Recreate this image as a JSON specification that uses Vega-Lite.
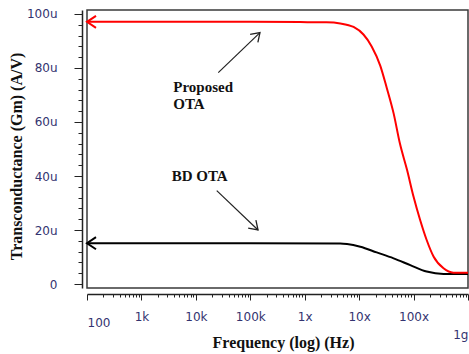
{
  "$schema": "https://vega.github.io/schema/vega-lite/v6.json",
  "width": 381,
  "height": 278,
  "autosize": {"type": "none"},
  "padding": {"left": 87, "top": 10, "right": 1, "bottom": 66},
  "background": "white",
  "config": {"view": {"stroke": "#3a3a3a", "strokeWidth": 1.5}},
  "resolve": {"axis": {"x": "independent", "y": "independent"}},
  "datasets": {
    "curves": [
      {"series": "Proposed OTA", "f": 100, "gm": 97.1},
      {"series": "Proposed OTA", "f": 10000, "gm": 97.1},
      {"series": "Proposed OTA", "f": 100000, "gm": 97.1},
      {"series": "Proposed OTA", "f": 830000, "gm": 97.0},
      {"series": "Proposed OTA", "f": 2500000, "gm": 96.9},
      {"series": "Proposed OTA", "f": 4500000, "gm": 96.5},
      {"series": "Proposed OTA", "f": 7900000, "gm": 95.2},
      {"series": "Proposed OTA", "f": 12000000, "gm": 92.4},
      {"series": "Proposed OTA", "f": 17000000, "gm": 88.0},
      {"series": "Proposed OTA", "f": 24500000, "gm": 80.8},
      {"series": "Proposed OTA", "f": 32000000, "gm": 72.8},
      {"series": "Proposed OTA", "f": 43000000, "gm": 63.2},
      {"series": "Proposed OTA", "f": 56000000, "gm": 52.1},
      {"series": "Proposed OTA", "f": 76000000, "gm": 42.2},
      {"series": "Proposed OTA", "f": 100000000, "gm": 32.3},
      {"series": "Proposed OTA", "f": 132000000, "gm": 23.7},
      {"series": "Proposed OTA", "f": 174000000, "gm": 16.3},
      {"series": "Proposed OTA", "f": 234000000, "gm": 10.1},
      {"series": "Proposed OTA", "f": 355000000, "gm": 5.8},
      {"series": "Proposed OTA", "f": 540000000, "gm": 4.2},
      {"series": "Proposed OTA", "f": 1000000000, "gm": 4.2},
      {"series": "BD OTA", "f": 100, "gm": 15.1},
      {"series": "BD OTA", "f": 100000, "gm": 15.1},
      {"series": "BD OTA", "f": 4500000, "gm": 15.0},
      {"series": "BD OTA", "f": 6000000, "gm": 14.8},
      {"series": "BD OTA", "f": 10500000, "gm": 13.8},
      {"series": "BD OTA", "f": 21000000, "gm": 11.7},
      {"series": "BD OTA", "f": 43000000, "gm": 9.5},
      {"series": "BD OTA", "f": 87000000, "gm": 7.0},
      {"series": "BD OTA", "f": 174000000, "gm": 4.6},
      {"series": "BD OTA", "f": 355000000, "gm": 3.7},
      {"series": "BD OTA", "f": 1000000000, "gm": 3.7}
    ],
    "arrows": [
      {"name": "Proposed", "f": 25800, "gm": 78.3, "f2": 150700, "gm2": 93.1},
      {"name": "BD", "f": 24200, "gm": 34.6, "f2": 138700, "gm2": 20.0}
    ],
    "labels": [
      {"text": "Proposed", "f": 3850, "gm": 71.2},
      {"text": "OTA", "f": 3850, "gm": 64.7},
      {"text": "BD OTA", "f": 3600, "gm": 38.3}
    ]
  },
  "layer": [
    {
      "data": {"name": "curves"},
      "transform": [{"filter": "datum.series == 'BD OTA'"}],
      "mark": {"type": "line", "color": "#000000", "strokeWidth": 2, "interpolate": "monotone"},
      "encoding": {
        "x": {
          "field": "f", "type": "quantitative",
          "scale": {"type": "log", "domain": [100, 1000000000], "nice": false},
          "axis": {
            "orient": "bottom",
            "title": "Frequency (log) (Hz)",
            "titleFont": "Liberation Serif", "titleFontWeight": "bold", "titleFontSize": 16, "titleColor": "#111111",
            "titleX": 196, "titleY": 53, "titleBaseline": "alphabetic", "titleAlign": "center", "titleAnchor": null,
            "offset": 6, "grid": false,
            "domainColor": "#222222", "domainWidth": 1.5,
            "tickColor": "#222222", "tickWidth": 1, "tickSize": 6,
            "values": [100, 1000, 10000, 100000, 1000000, 10000000, 100000000, 1000000000],
            "labelExpr": "datum.value == 100 ? '100' : datum.value == 1000 ? '1k' : datum.value == 10000 ? '10k' : datum.value == 100000 ? '100k' : datum.value == 1000000 ? '1x' : datum.value == 10000000 ? '10x' : datum.value == 100000000 ? '100x' : '1g'",
            "labelPadding": {"condition": [{"test": "datum.value == 100", "value": 17}, {"test": "datum.value == 1000000000", "value": 29}], "value": 11},
            "labelFlush": true, "labelOverlap": false, "labelBound": false,
            "labelFont": "DejaVu Sans", "labelFontSize": 12, "labelColor": "#333370"
          }
        },
        "y": {
          "field": "gm", "type": "quantitative",
          "scale": {"domain": [-1.48, 101.48], "nice": false, "zero": false},
          "axis": {
            "orient": "left",
            "title": "Transconductance (Gm) (A/V)",
            "titleFont": "Liberation Serif", "titleFontWeight": "bold", "titleFontSize": 16, "titleColor": "#111111",
            "titleAngle": 270, "titleX": -61, "titleY": 146, "titleBaseline": "alphabetic", "titleAlign": "center", "titleAnchor": null,
            "offset": 5, "grid": false,
            "domainColor": "#222222", "domainWidth": 1.5,
            "tickColor": "#222222", "tickWidth": 1, "tickSize": 8,
            "values": [0, 20, 40, 60, 80, 100],
            "labelExpr": "datum.value == 0 ? '0' : datum.value + 'u'",
            "labelPadding": 17, "labelAlign": "right", "labelBaseline": "middle", "labelOverlap": false, "labelBound": false,
            "labelFont": "DejaVu Sans", "labelFontSize": 12, "labelColor": "#333370"
          }
        }
      }
    },
    {
      "data": {"name": "curves"},
      "transform": [{"filter": "datum.series == 'Proposed OTA'"}],
      "mark": {"type": "line", "color": "#ff0000", "strokeWidth": 2, "interpolate": "monotone"},
      "encoding": {
        "x": {
          "field": "f", "type": "quantitative",
          "axis": {
            "orient": "bottom",
            "title": null, "labels": false, "domain": false, "grid": false, "offset": 6,
            "tickColor": "#222222", "tickWidth": 1, "tickSize": 3,
            "values": [200,300,400,500,600,700,800,900,2000,3000,4000,5000,6000,7000,8000,9000,20000,30000,40000,50000,60000,70000,80000,90000,200000,300000,400000,500000,600000,700000,800000,900000,2000000,3000000,4000000,5000000,6000000,7000000,8000000,9000000,20000000,30000000,40000000,50000000,60000000,70000000,80000000,90000000,200000000,300000000,400000000,500000000,600000000,700000000,800000000,900000000]
          }
        },
        "y": {
          "field": "gm", "type": "quantitative",
          "axis": {
            "orient": "left",
            "title": null, "labels": false, "domain": false, "grid": false, "offset": 5,
            "tickColor": "#222222", "tickWidth": 1, "tickSize": 4,
            "values": [4,8,12,16,24,28,32,36,44,48,52,56,64,68,72,76,84,88,92,96]
          }
        }
      }
    },
    {
      "data": {"name": "curves"},
      "transform": [{"filter": "datum.f == 100"}],
      "mark": {"type": "point", "shape": "M1,-0.67L0,0L1,0.67", "size": 324, "filled": false, "strokeWidth": 2, "opacity": 1},
      "encoding": {
        "x": {"field": "f", "type": "quantitative", "axis": null},
        "y": {"field": "gm", "type": "quantitative", "axis": null},
        "color": {"field": "series", "type": "nominal", "scale": {"domain": ["Proposed OTA", "BD OTA"], "range": ["#ff0000", "#000000"]}, "legend": null}
      }
    },
    {
      "data": {"name": "arrows"},
      "mark": {"type": "rule", "color": "#222222", "strokeWidth": 1.2},
      "encoding": {
        "x": {"field": "f", "type": "quantitative", "axis": null},
        "y": {"field": "gm", "type": "quantitative", "axis": null},
        "x2": {"field": "f2"},
        "y2": {"field": "gm2"}
      }
    },
    {
      "data": {"name": "arrows"},
      "transform": [{"filter": "datum.name == 'Proposed'"}],
      "mark": {"type": "point", "shape": "M-1,-0.67L0,0L-1,0.67", "size": 276, "filled": false, "strokeWidth": 1.3, "color": "#222222", "opacity": 1, "angle": 316},
      "encoding": {
        "x": {"field": "f2", "type": "quantitative", "axis": null},
        "y": {"field": "gm2", "type": "quantitative", "axis": null}
      }
    },
    {
      "data": {"name": "arrows"},
      "transform": [{"filter": "datum.name == 'BD'"}],
      "mark": {"type": "point", "shape": "M-1,-0.67L0,0L-1,0.67", "size": 276, "filled": false, "strokeWidth": 1.3, "color": "#222222", "opacity": 1, "angle": 44},
      "encoding": {
        "x": {"field": "f2", "type": "quantitative", "axis": null},
        "y": {"field": "gm2", "type": "quantitative", "axis": null}
      }
    },
    {
      "data": {"name": "labels"},
      "mark": {"type": "text", "font": "Liberation Serif", "fontWeight": "bold", "fontSize": 15, "align": "left", "baseline": "alphabetic", "color": "#111111"},
      "encoding": {
        "x": {"field": "f", "type": "quantitative", "axis": null},
        "y": {"field": "gm", "type": "quantitative", "axis": null},
        "text": {"field": "text"}
      }
    }
  ]
}
